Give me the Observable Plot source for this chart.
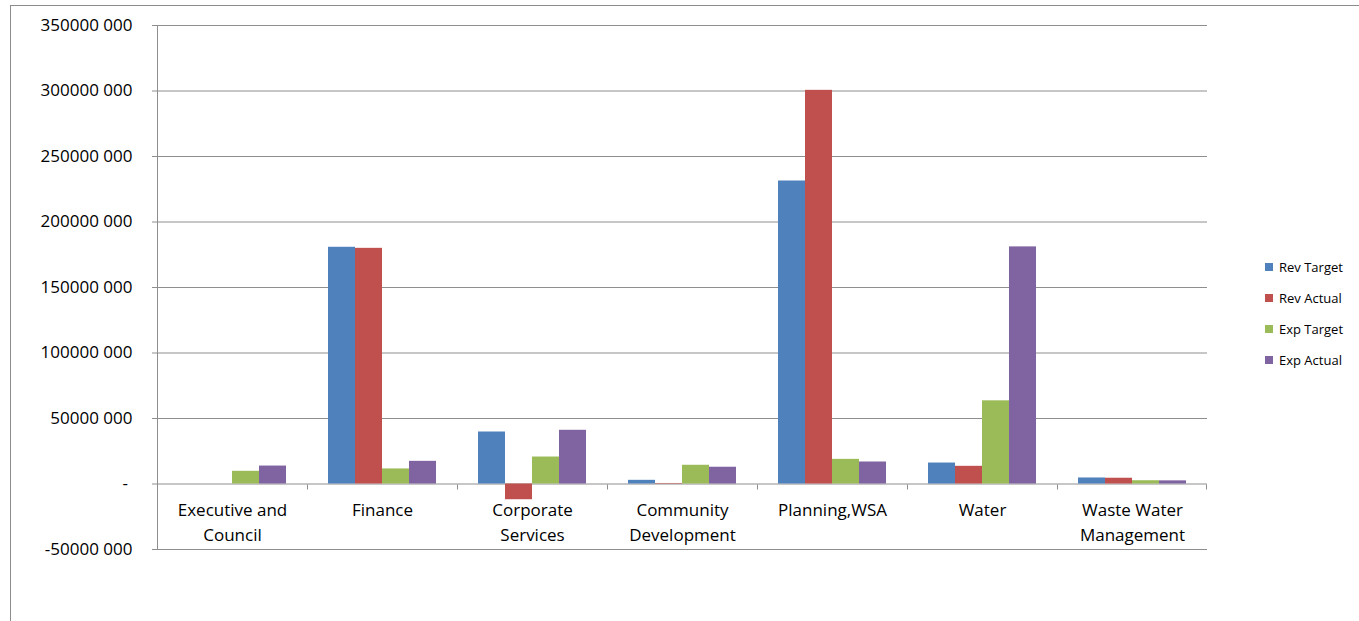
<!DOCTYPE html>
<html><head><meta charset="utf-8">
<script src="https://cdn.jsdelivr.net/npm/d3@7"></script>
<script src="https://cdn.jsdelivr.net/npm/@observablehq/plot@0.6"></script>
<style>
html,body{margin:0;padding:0;overflow:hidden;background:#fff;}
#wrap{position:relative;width:1359px;height:621px;overflow:hidden;}
#border{position:absolute;left:10px;top:5px;width:1400px;height:700px;border:1px solid #8c8c8c;box-sizing:border-box;}
#chart{position:absolute;left:0;top:0;}
#legend{position:absolute;left:1265px;top:251px;font-family:"Open Sans";font-size:13px;color:#000;}
#legend .row{height:31px;display:flex;align-items:center;}
#legend .sw{width:8px;height:8px;margin-right:6px;}
</style></head>
<body><div id="wrap"><div id="border"></div><div id="chart"></div><div id="legend"></div></div>
<script>
const categories = ["Executive and Council","Finance","Corporate Services","Community Development","Planning,WSA","Water","Waste Water Management"];
const categoryLabels = ["Executive and\nCouncil","Finance","Corporate\nServices","Community\nDevelopment","Planning,WSA","Water","Waste Water\nManagement"];
const series = ["Rev Target","Rev Actual","Exp Target","Exp Actual"];
const revTarget = [0,180700000,39700000,2800000,231300000,16000000,4600000];
const revActual = [0,179900000,-12000000,400000,300500000,13500000,4400000];
const expTarget = [9700000,11500000,20600000,14300000,18800000,63500000,2500000];
const expActual = [13700000,17300000,41000000,12800000,16800000,181000000,2400000];
const colors = ["#4F81BD","#C0504D","#9BBB59","#8064A2"];
const yTicks = [-50000000,0,50000000,100000000,150000000,200000000,250000000,300000000,350000000];

const seriesValues = [revTarget, revActual, expTarget, expActual];
const table = [];
categories.forEach((c, i) => series.forEach((s, j) => table.push({category: c, series: s, value: seriesValues[j][i]})));

const fmt = d => d === 0 ? "-\u00a0" : `${Math.trunc(d / 1000)} ${String(Math.abs(d % 1000)).padStart(3, "0")}`;
const gridColor = "#8e8e8e";

const plot = Plot.plot({
  width: 1359, height: 621,
  marginLeft: 155, marginRight: 151, marginTop: 25, marginBottom: 72,
  style: {fontFamily: "Open Sans", fontSize: "17px", color: "#000", background: "transparent"},
  fx: {domain: categories, padding: 0, axis: null},
  x: {domain: series, paddingOuter: 0.745, paddingInner: 0, axis: null},
  y: {domain: [-50000000, 350000000], axis: null},
  color: {domain: series, range: colors},
  marks: [
    Plot.gridY(yTicks, {stroke: gridColor, strokeOpacity: 1}),
    Plot.barY(table, {fx: "category", x: "series", y: "value", fill: "series"}),
    Plot.axisY(yTicks, {tickFormat: fmt, tickSize: 5, tickPadding: 20, stroke: gridColor, fontSize: 17, label: null}),
    Plot.text(categories, {fx: d => d, y: () => 0, text: (d, i) => categoryLabels[i], lineAnchor: "top", dy: 14, lineHeight: 1.47, fontSize: 17, fill: "#000"})
  ]
});

// Category boundary ticks and the y axis line, placed with the plot's own scales
const fxS = plot.scale("fx");
const yS = plot.scale("y");
const y0 = Math.round(yS.apply(0)) + 0.5;
const yTop = yS.apply(yTicks[yTicks.length - 1]);
const yBot = yS.apply(yTicks[0]);
const edges = categories.map(c => fxS.apply(c));
edges.push(fxS.apply(categories[categories.length - 1]) + fxS.bandwidth);
const svg = d3.select(plot.tagName.toLowerCase() === "svg" ? plot : plot.querySelector("svg"));
const g = svg.append("g").attr("stroke", gridColor).attr("stroke-width", 1);
const xl = Math.round(edges[0]) + 0.5;
g.append("line").attr("x1", xl).attr("x2", xl).attr("y1", yTop).attr("y2", yBot);
edges.forEach((e, i) => {
  const xe = Math.round(e) + (i === edges.length - 1 ? -0.5 : 0.5);
  g.append("line").attr("x1", xe).attr("x2", xe).attr("y1", y0).attr("y2", y0 + 5);
});

document.getElementById("chart").appendChild(plot);

const legend = document.getElementById("legend");
series.forEach((s, i) => {
  const row = document.createElement("div");
  row.className = "row";
  row.innerHTML = `<div class="sw" style="background:${colors[i]}"></div><span>${s}</span>`;
  legend.appendChild(row);
});
</script></body></html>
